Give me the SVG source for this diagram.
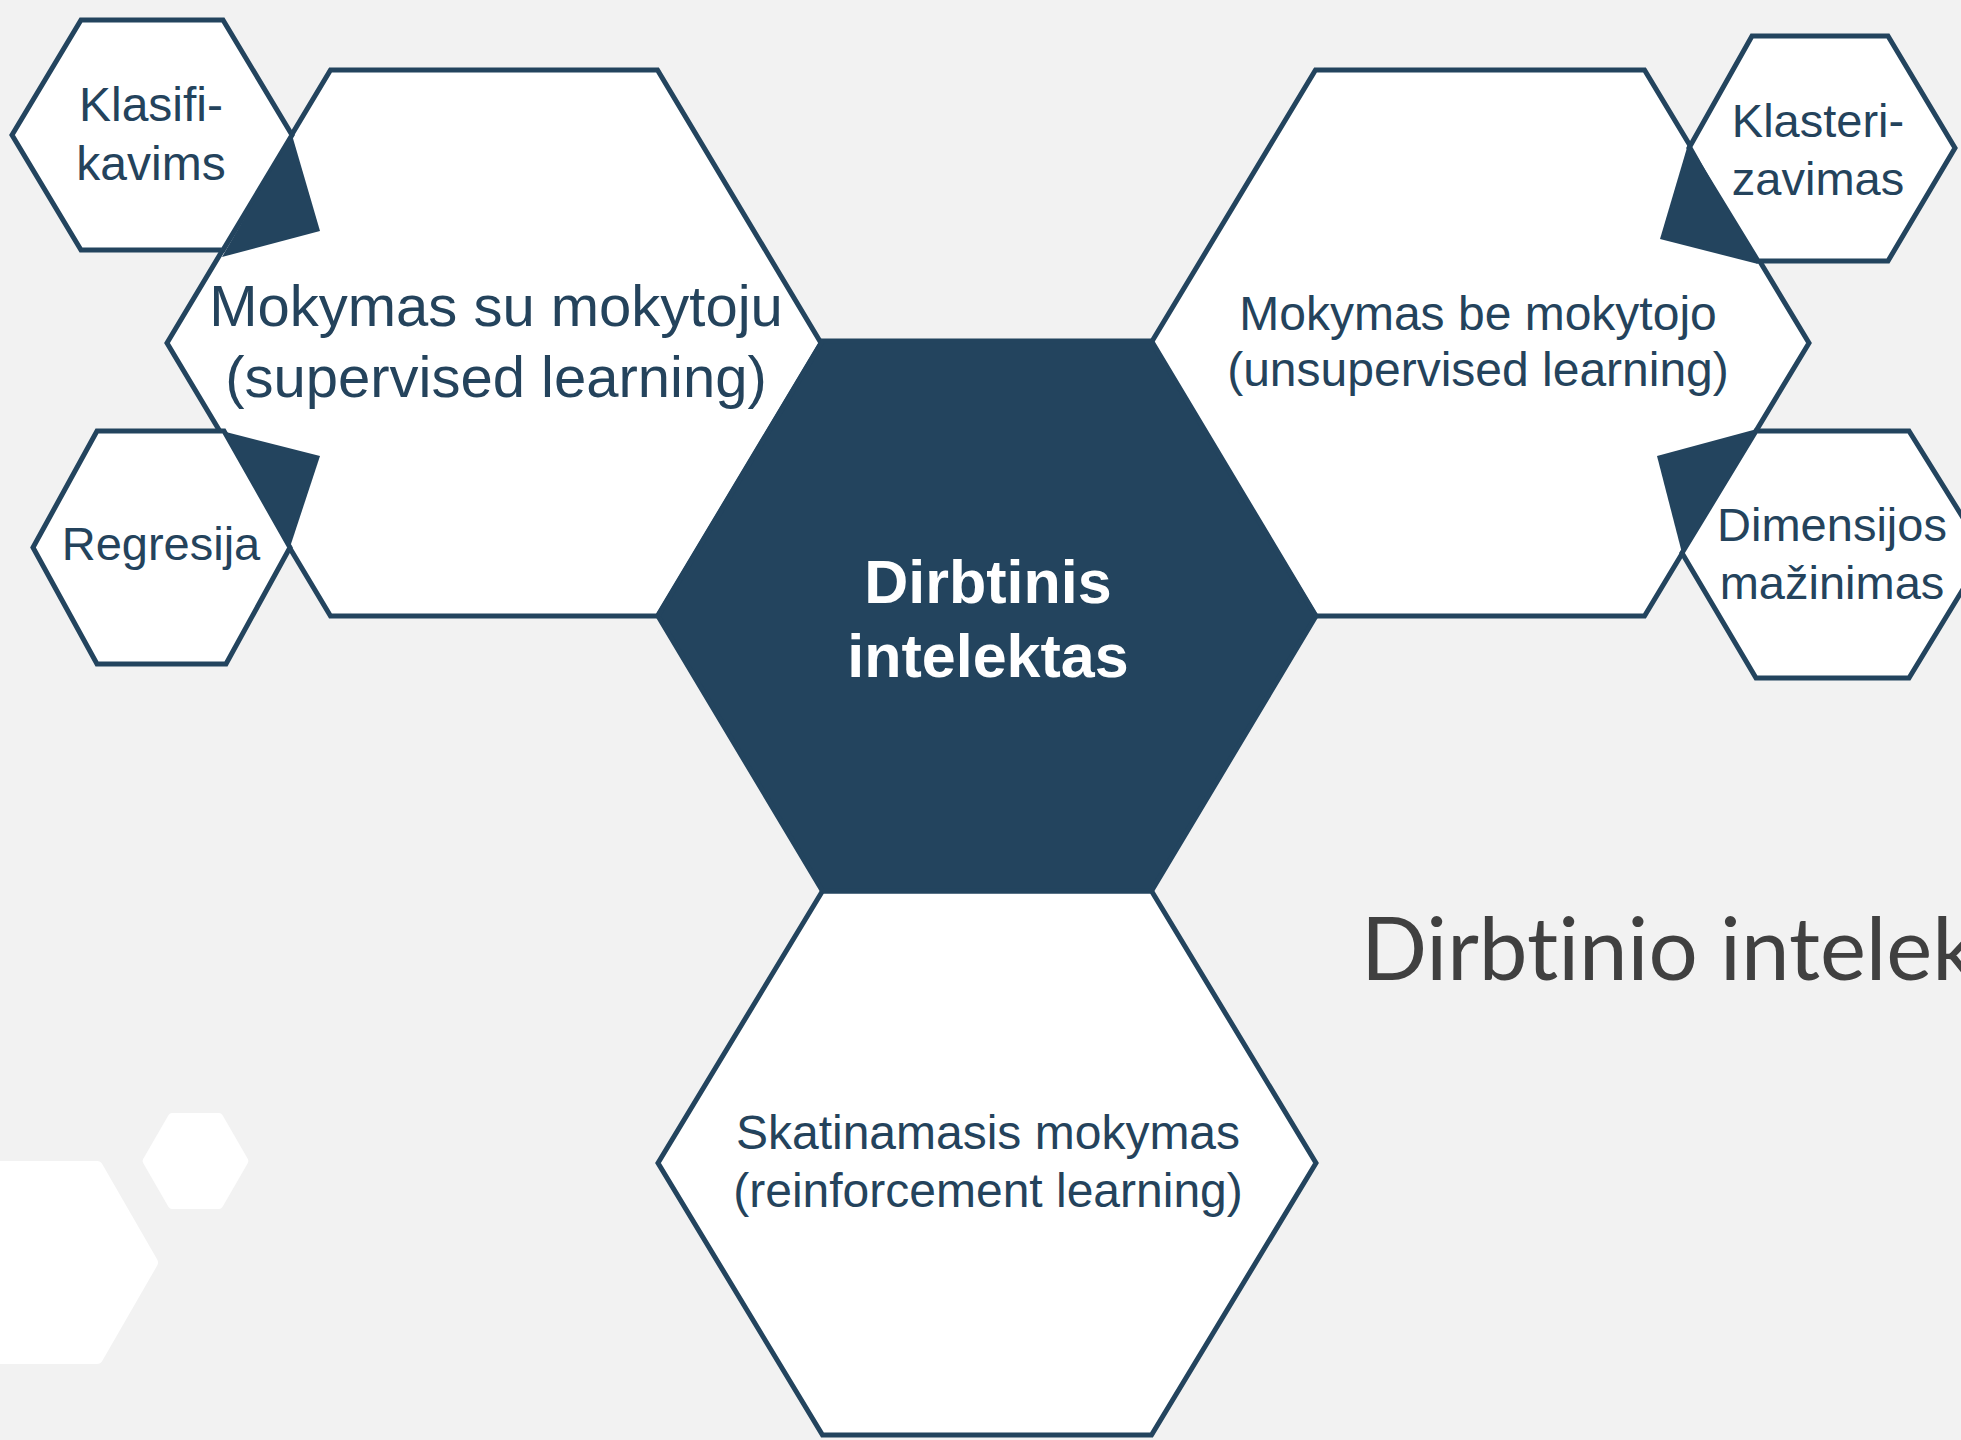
<svg xmlns="http://www.w3.org/2000/svg" width="1961" height="1440" viewBox="0 0 1961 1440">
  <style>
    .hex { fill: #ffffff; stroke: #23445e; stroke-width: 5; stroke-linejoin: miter; }
    .hexdark { fill: #23445e; stroke: #23445e; stroke-width: 5; }
    .lbl { font-family: "Liberation Sans", Arial, sans-serif; fill: #24435c; text-anchor: middle; }
    .lblw { font-family: "Liberation Sans", Arial, sans-serif; fill: #ffffff; font-weight: bold; text-anchor: middle; }
    .wedge { fill: #23445e; stroke: none; }
    .deco { fill: #ffffff; stroke: #ffffff; stroke-linejoin: round; }
    .title { font-family: Lato, "Open Sans", sans-serif; fill: #404040; font-variant-ligatures: none; font-feature-settings: "liga" 0, "clig" 0; }
  </style>
  <rect x="0" y="0" width="1961" height="1440" fill="#f2f2f2"/>

  <!-- decorative background hexagons -->
  <g id="decor">
    <path class="deco" stroke-width="12" d="M -200 1167 L 97 1167 L 152 1262.5 L 97 1358 L -200 1358 Z"/>
    <path class="deco" stroke-width="8" d="M 146.6 1161 L 172 1117 L 219 1117 L 244.4 1161 L 219 1205 L 172 1205 Z"/>
  </g>

  <text class="title" x="1361" y="980" font-size="87">Dirbtinio intelek</text>

  <g id="node-supervised">
    <polygon class="hex" points="167,343 330.5,70 657.5,70 821,343 657.5,616 330.5,616"/>
    <text class="lbl" x="496" y="326" font-size="58">Mokymas su mokytoju</text>
    <text class="lbl" x="496" y="397" font-size="58">(supervised learning)</text>
  </g>

  <g id="node-unsupervised">
    <polygon class="hex" points="1151,343 1315.5,70 1644.5,70 1809,343 1644.5,616 1315.5,616"/>
    <text class="lbl" x="1478" y="330" font-size="48">Mokymas be mokytojo</text>
    <text class="lbl" x="1478" y="386" font-size="48">(unsupervised learning)</text>
  </g>

  <g id="node-reinforcement">
    <polygon class="hex" points="658,1163 822.5,891 1151.5,891 1316,1163 1151.5,1435 822.5,1435"/>
    <text class="lbl" x="988" y="1149" font-size="48">Skatinamasis mokymas</text>
    <text class="lbl" x="988" y="1207" font-size="48">(reinforcement learning)</text>
  </g>

  <g id="node-ai">
    <polygon class="hexdark" points="658,616 822.5,341 1151.5,341 1316,616 1151.5,891 822.5,891"/>
    <text class="lblw" x="988" y="603" font-size="61">Dirbtinis</text>
    <text class="lblw" x="988" y="677" font-size="61">intelektas</text>
  </g>

  <g id="node-klasifikavimas">
    <polygon class="hex" points="12,135 81,20 223,20 292,135 223,250 81,250"/>
    <text class="lbl" x="151" y="121" font-size="48">Klasifi-</text>
    <text class="lbl" x="151" y="180" font-size="48">kavims</text>
  </g>

  <g id="node-regresija">
    <polygon class="hex" points="33,547.5 97,431 224,431 290,547.5 226,664 97,664"/>
    <text class="lbl" x="161" y="560" font-size="47">Regresija</text>
  </g>

  <g id="node-klasterizavimas">
    <polygon class="hex" points="1689,148 1752,36 1888,36 1955,148 1888,261 1758,261"/>
    <text class="lbl" x="1818" y="137" font-size="47">Klasteri-</text>
    <text class="lbl" x="1818" y="195" font-size="47">zavimas</text>
  </g>

  <g id="node-dimensijos">
    <polygon class="hex" points="1682,553 1756,431 1909,431 1985,553 1909,678 1756,678"/>
    <text class="lbl" x="1832" y="541" font-size="47">Dimensijos</text>
    <text class="lbl" x="1832" y="599" font-size="47">mažinimas</text>
  </g>

  <g id="connectors">
    <polygon class="wedge" points="292,135 320,231 222,257"/>
    <polygon class="wedge" points="222,431 320,456 290,547"/>
    <polygon class="wedge" points="1689,141 1758,264 1660,239"/>
    <polygon class="wedge" points="1757,429 1657,456 1682,553"/>
  </g>
</svg>
